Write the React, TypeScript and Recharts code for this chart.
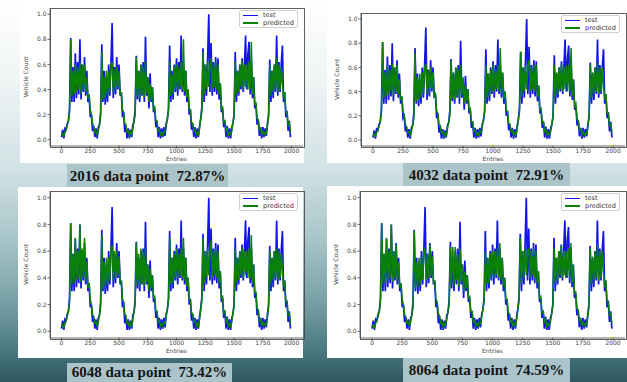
import { LineChart, Line, XAxis, YAxis } from "recharts";

// ── Data (one value every 10 entries) ───────────────────────────────────
const STEP = 10;
const X_TICKS = [0, 250, 500, 750, 1000, 1250, 1500, 1750, 2000];
const Y_TICKS = [0, 0.2, 0.4, 0.6, 0.8, 1.0];

// test series is the same in all four runs
const test = [
  0.02, 0.08, 0.01, 0.09, 0.08, 0.13, 0.15, 0.25, 0.81, 0.3,
  0.58, 0.3, 0.69, 0.33, 0.62, 0.36, 0.8, 0.32, 0.6, 0.38,
  0.66, 0.35, 0.55, 0.3, 0.36, 0.18, 0.2, 0.07, 0.11, 0.02,
  0.09, 0.01, 0.1, 0.12, 0.22, 0.76, 0.3, 0.55, 0.28, 0.5,
  0.3, 0.6, 0.35, 0.62, 0.93, 0.33, 0.58, 0.36, 0.66, 0.4,
  0.6, 0.35, 0.38, 0.18, 0.22, 0.06, 0.11, 0.01, 0.09, 0.01,
  0.08, 0.02, 0.12, 0.14, 0.24, 0.67, 0.32, 0.55, 0.3, 0.6,
  0.35, 0.62, 0.3, 0.82, 0.35, 0.5, 0.25, 0.53, 0.3, 0.42,
  0.22, 0.25, 0.1, 0.15, 0.02, 0.1, 0.01, 0.09, 0.02, 0.1,
  0.03, 0.13, 0.16, 0.25, 0.75, 0.3, 0.55, 0.32, 0.6, 0.38,
  0.65, 0.35, 0.62, 0.4, 0.83, 0.38, 0.62, 0.35, 0.55, 0.3,
  0.4, 0.2, 0.24, 0.08, 0.13, 0.02, 0.1, 0.01, 0.09, 0.02,
  0.11, 0.17, 0.26, 0.73, 0.3, 0.6, 0.35, 0.65, 1.0, 0.38,
  0.77, 0.35, 0.62, 0.38, 0.66, 0.36, 0.65, 0.32, 0.45, 0.22,
  0.25, 0.1, 0.15, 0.02, 0.11, 0.01, 0.09, 0.01, 0.1, 0.13,
  0.2, 0.7, 0.3, 0.55, 0.35, 0.6, 0.4, 0.65, 0.38, 0.6,
  0.83, 0.4, 0.68, 0.78, 0.36, 0.62, 0.33, 0.5, 0.25, 0.28,
  0.12, 0.16, 0.03, 0.1, 0.01, 0.1, 0.02, 0.09, 0.03, 0.13,
  0.2, 0.64, 0.3, 0.55, 0.33, 0.6, 0.38, 0.83, 0.35, 0.62,
  0.38, 0.6, 0.75, 0.3, 0.38, 0.18, 0.23, 0.07, 0.15, 0.02,
];

const pred2016 = [
  0.03, 0.05, 0.03, 0.06, 0.08, 0.11, 0.15, 0.22, 0.8, 0.35,
  0.55, 0.36, 0.6, 0.38, 0.58, 0.4, 0.62, 0.37, 0.6, 0.4,
  0.6, 0.38, 0.5, 0.33, 0.36, 0.24, 0.2, 0.13, 0.1, 0.06,
  0.07, 0.04, 0.07, 0.12, 0.18, 0.7, 0.32, 0.5, 0.33, 0.55,
  0.35, 0.55, 0.38, 0.6, 0.62, 0.38, 0.56, 0.4, 0.58, 0.42,
  0.55, 0.36, 0.38, 0.24, 0.22, 0.13, 0.12, 0.06, 0.07, 0.03,
  0.06, 0.04, 0.09, 0.15, 0.2, 0.66, 0.35, 0.55, 0.33, 0.6,
  0.36, 0.58, 0.34, 0.62, 0.37, 0.5, 0.3, 0.45, 0.32, 0.42,
  0.25, 0.26, 0.15, 0.15, 0.07, 0.08, 0.04, 0.06, 0.04, 0.07,
  0.06, 0.11, 0.17, 0.23, 0.62, 0.35, 0.52, 0.36, 0.58, 0.4,
  0.6, 0.4, 0.58, 0.42, 0.62, 0.4, 0.8, 0.38, 0.55, 0.34,
  0.4, 0.24, 0.24, 0.14, 0.13, 0.07, 0.08, 0.04, 0.06, 0.04,
  0.09, 0.16, 0.23, 0.7, 0.36, 0.6, 0.4, 0.62, 0.42, 0.6,
  0.65, 0.4, 0.6, 0.42, 0.62, 0.4, 0.6, 0.36, 0.45, 0.25,
  0.26, 0.14, 0.15, 0.07, 0.09, 0.04, 0.06, 0.04, 0.07, 0.13,
  0.19, 0.62, 0.36, 0.55, 0.38, 0.6, 0.42, 0.63, 0.4, 0.6,
  0.42, 0.6, 0.4, 0.62, 0.4, 0.78, 0.36, 0.5, 0.28, 0.3,
  0.17, 0.16, 0.08, 0.09, 0.04, 0.07, 0.04, 0.06, 0.05, 0.11,
  0.18, 0.6, 0.35, 0.55, 0.38, 0.6, 0.4, 0.65, 0.38, 0.6,
  0.4, 0.58, 0.45, 0.33, 0.38, 0.22, 0.22, 0.12, 0.13, 0.06,
];

const pred4032 = [
  0.03, 0.05, 0.03, 0.06, 0.08, 0.11, 0.15, 0.22, 0.81, 0.35,
  0.56, 0.36, 0.62, 0.38, 0.58, 0.4, 0.63, 0.37, 0.6, 0.4,
  0.62, 0.38, 0.5, 0.33, 0.36, 0.24, 0.2, 0.13, 0.1, 0.06,
  0.07, 0.04, 0.07, 0.12, 0.18, 0.72, 0.32, 0.52, 0.33, 0.55,
  0.35, 0.56, 0.38, 0.6, 0.63, 0.38, 0.57, 0.4, 0.6, 0.42,
  0.56, 0.36, 0.38, 0.24, 0.22, 0.13, 0.12, 0.06, 0.07, 0.03,
  0.06, 0.04, 0.09, 0.15, 0.2, 0.66, 0.35, 0.56, 0.33, 0.6,
  0.36, 0.58, 0.34, 0.62, 0.37, 0.52, 0.3, 0.45, 0.32, 0.42,
  0.25, 0.26, 0.15, 0.15, 0.07, 0.08, 0.04, 0.06, 0.04, 0.07,
  0.06, 0.11, 0.17, 0.23, 0.62, 0.35, 0.55, 0.36, 0.58, 0.4,
  0.62, 0.4, 0.58, 0.42, 0.62, 0.4, 0.76, 0.38, 0.56, 0.34,
  0.4, 0.24, 0.24, 0.14, 0.13, 0.07, 0.08, 0.04, 0.06, 0.04,
  0.09, 0.16, 0.23, 0.73, 0.36, 0.6, 0.4, 0.62, 0.42, 0.62,
  0.66, 0.4, 0.6, 0.42, 0.62, 0.4, 0.62, 0.36, 0.45, 0.25,
  0.26, 0.14, 0.15, 0.07, 0.09, 0.04, 0.06, 0.04, 0.07, 0.13,
  0.19, 0.62, 0.36, 0.56, 0.38, 0.6, 0.42, 0.63, 0.4, 0.6,
  0.42, 0.62, 0.4, 0.62, 0.4, 0.76, 0.36, 0.5, 0.28, 0.3,
  0.17, 0.16, 0.08, 0.09, 0.04, 0.07, 0.04, 0.06, 0.05, 0.11,
  0.18, 0.62, 0.35, 0.56, 0.38, 0.6, 0.4, 0.64, 0.38, 0.6,
  0.4, 0.6, 0.45, 0.33, 0.38, 0.22, 0.22, 0.12, 0.13, 0.06,
];

const pred6048 = [
  0.03, 0.05, 0.03, 0.06, 0.08, 0.11, 0.15, 0.22, 0.81, 0.35,
  0.58, 0.36, 0.7, 0.38, 0.6, 0.4, 0.8, 0.37, 0.62, 0.4,
  0.7, 0.38, 0.52, 0.33, 0.36, 0.24, 0.2, 0.13, 0.1, 0.06,
  0.07, 0.04, 0.07, 0.12, 0.18, 0.72, 0.32, 0.52, 0.33, 0.55,
  0.35, 0.55, 0.38, 0.62, 0.64, 0.38, 0.6, 0.4, 0.6, 0.42,
  0.56, 0.36, 0.38, 0.24, 0.22, 0.13, 0.12, 0.06, 0.07, 0.03,
  0.06, 0.04, 0.09, 0.15, 0.2, 0.66, 0.35, 0.58, 0.33, 0.62,
  0.36, 0.6, 0.34, 0.62, 0.37, 0.5, 0.3, 0.47, 0.32, 0.42,
  0.25, 0.26, 0.15, 0.15, 0.07, 0.08, 0.04, 0.06, 0.04, 0.07,
  0.06, 0.11, 0.17, 0.23, 0.7, 0.35, 0.55, 0.36, 0.58, 0.4,
  0.62, 0.4, 0.58, 0.42, 0.62, 0.4, 0.7, 0.38, 0.55, 0.34,
  0.4, 0.24, 0.24, 0.14, 0.13, 0.07, 0.08, 0.04, 0.06, 0.04,
  0.09, 0.16, 0.23, 0.7, 0.36, 0.6, 0.4, 0.62, 0.42, 0.6,
  0.68, 0.4, 0.6, 0.42, 0.62, 0.4, 0.6, 0.36, 0.45, 0.25,
  0.26, 0.14, 0.15, 0.07, 0.09, 0.04, 0.06, 0.04, 0.07, 0.13,
  0.19, 0.62, 0.36, 0.55, 0.38, 0.6, 0.42, 0.63, 0.4, 0.6,
  0.42, 0.6, 0.4, 0.62, 0.4, 0.72, 0.36, 0.5, 0.28, 0.3,
  0.17, 0.16, 0.08, 0.09, 0.04, 0.07, 0.04, 0.06, 0.05, 0.11,
  0.18, 0.6, 0.35, 0.55, 0.38, 0.6, 0.4, 0.62, 0.38, 0.6,
  0.4, 0.58, 0.45, 0.33, 0.38, 0.22, 0.22, 0.12, 0.13, 0.06,
];

const pred8064 = [
  0.03, 0.05, 0.03, 0.06, 0.08, 0.11, 0.15, 0.22, 0.81, 0.35,
  0.58, 0.36, 0.7, 0.38, 0.6, 0.4, 0.8, 0.37, 0.6, 0.4,
  0.65, 0.38, 0.52, 0.33, 0.36, 0.24, 0.2, 0.13, 0.1, 0.06,
  0.07, 0.04, 0.07, 0.12, 0.18, 0.75, 0.32, 0.52, 0.33, 0.55,
  0.35, 0.56, 0.38, 0.6, 0.62, 0.38, 0.58, 0.4, 0.65, 0.42,
  0.56, 0.36, 0.38, 0.24, 0.22, 0.13, 0.12, 0.06, 0.07, 0.03,
  0.06, 0.04, 0.09, 0.15, 0.2, 0.63, 0.36, 0.63, 0.34, 0.63,
  0.38, 0.58, 0.34, 0.62, 0.37, 0.5, 0.3, 0.45, 0.32, 0.42,
  0.25, 0.26, 0.15, 0.15, 0.07, 0.08, 0.04, 0.06, 0.04, 0.07,
  0.06, 0.11, 0.17, 0.23, 0.6, 0.35, 0.55, 0.36, 0.58, 0.4,
  0.6, 0.4, 0.6, 0.42, 0.62, 0.4, 0.66, 0.38, 0.55, 0.34,
  0.4, 0.24, 0.24, 0.14, 0.13, 0.07, 0.08, 0.04, 0.06, 0.04,
  0.09, 0.16, 0.23, 0.7, 0.36, 0.6, 0.4, 0.62, 0.42, 0.6,
  0.62, 0.4, 0.6, 0.42, 0.62, 0.4, 0.6, 0.36, 0.45, 0.25,
  0.26, 0.14, 0.15, 0.07, 0.09, 0.04, 0.06, 0.04, 0.07, 0.13,
  0.19, 0.62, 0.36, 0.55, 0.38, 0.6, 0.42, 0.64, 0.4, 0.6,
  0.42, 0.6, 0.4, 0.62, 0.4, 0.66, 0.36, 0.5, 0.28, 0.3,
  0.17, 0.16, 0.08, 0.09, 0.04, 0.07, 0.04, 0.06, 0.05, 0.11,
  0.18, 0.62, 0.35, 0.56, 0.38, 0.6, 0.4, 0.65, 0.38, 0.6,
  0.4, 0.6, 0.45, 0.33, 0.38, 0.22, 0.22, 0.12, 0.13, 0.06,
];

// ── Layout of the four panels (page coords) ─────────────────────────────
type Box = { l: number; t: number; w: number; h: number };
type Frame = { l: number; t: number; r: number; b: number };
interface PanelCfg {
  caption: string;
  pred: number[];
  card: Box;
  plot: Frame;
  cap: Box;
}

const PANELS: PanelCfg[] = [
  {
    caption: "2016 data point  72.87%",
    pred: pred2016,
    card: { l: 20, t: 0, w: 284, h: 163 },
    plot: { l: 50, t: 8, r: 303, b: 146 },
    cap: { l: 67, t: 164, w: 161, h: 24 },
  },
  {
    caption: "4032 data point  72.91%",
    pred: pred4032,
    card: { l: 327, t: 0, w: 300, h: 163 },
    plot: { l: 361, t: 13, r: 625, b: 146 },
    cap: { l: 403, t: 163, w: 167, h: 25 },
  },
  {
    caption: "6048 data point  73.42%",
    pred: pred6048,
    card: { l: 18, t: 187, w: 285, h: 171 },
    plot: { l: 50, t: 191, r: 303, b: 338 },
    cap: { l: 67, t: 363, w: 165, h: 19 },
  },
  {
    caption: "8064 data point  74.59%",
    pred: pred8064,
    card: { l: 327, t: 186, w: 300, h: 172 },
    plot: { l: 360, t: 191, r: 625, b: 338 },
    cap: { l: 403, t: 358, w: 167, h: 24 },
  },
];

const AX = "#444";
const BLUE = "#1414e6";
const GREEN = "#0a820a";
const MPL_FONT = "'DejaVu Sans', sans-serif";

function Panel({ cfg }: { cfg: PanelCfg }) {
  const { card, plot, cap } = cfg;
  const rows = test.map((v, i) => ({
    entry: i * STEP,
    test: v,
    predicted: cfg.pred[i],
  }));
  const yW = plot.l - card.l;
  const xH = card.t + card.h - plot.b;
  const margin = {
    top: plot.t - card.t,
    right: card.l + card.w - plot.r,
    left: 0,
    bottom: 0,
  };
  const plotW = plot.r - plot.l;
  const plotH = plot.b - plot.t;

  return (
    <>
      <div
        style={{
          position: "absolute",
          left: card.l,
          top: card.t,
          width: card.w,
          height: card.h,
          background: "#fff",
        }}
      >
        <LineChart width={card.w} height={card.h} data={rows} margin={margin}>
          <XAxis
            type="number"
            dataKey="entry"
            domain={[-100, 2099]}
            ticks={X_TICKS}
            interval={0}
            allowDataOverflow
            height={xH}
            stroke={AX}
            strokeWidth={0.8}
            tickSize={2.5}
            tickMargin={0.5}
            tick={{ fontSize: 6, fill: "#444", fontFamily: MPL_FONT }}
            label={(p: any) => {
              const vb = p.viewBox ?? {};
              return (
                <text
                  x={(vb.x ?? 0) + (vb.width ?? plotW) / 2}
                  y={plot.b - card.t + 14.5}
                  textAnchor="middle"
                  fontSize={6}
                  fill="#444"
                  fontFamily={MPL_FONT}
                >
                  Entries
                </text>
              );
            }}
          />
          <YAxis
            type="number"
            domain={[-0.05, 1.05]}
            ticks={Y_TICKS}
            interval={0}
            allowDataOverflow
            width={yW}
            stroke={AX}
            strokeWidth={0.8}
            tickSize={2.5}
            tickMargin={1}
            tickFormatter={(v: number) => v.toFixed(1)}
            tick={{ fontSize: 6, fill: "#444", fontFamily: MPL_FONT }}
            label={() => {
              const cx = yW - 25;
              const cy = plot.t - card.t + plotH / 2;
              return (
                <text
                  x={cx}
                  y={cy}
                  transform={`rotate(-90 ${cx} ${cy})`}
                  textAnchor="middle"
                  dominantBaseline="central"
                  fontSize={6}
                  fill="#444"
                  fontFamily={MPL_FONT}
                >
                  Vehicle Count
                </text>
              );
            }}
          />
          <Line
            type="linear"
            dataKey="test"
            stroke={BLUE}
            strokeWidth={1.7}
            strokeLinejoin="miter"
            dot={false}
            isAnimationActive={false}
          />
          <Line
            type="linear"
            dataKey="predicted"
            stroke={GREEN}
            strokeWidth={1.5}
            strokeLinejoin="miter"
            dot={false}
            isAnimationActive={false}
          />
        </LineChart>
      </div>

      {/* axes frame (matplotlib draws all four spines) */}
      <div
        style={{
          position: "absolute",
          left: plot.l - 0.5,
          top: plot.t - 0.5,
          width: plotW,
          height: plotH,
          border: `1px solid ${AX}`,
          opacity: 0.85,
          pointerEvents: "none",
        }}
      />

      {/* legend, upper right like matplotlib */}
      <div
        style={{
          position: "absolute",
          left: plot.r - 64,
          top: plot.t + 1.5,
          width: 59,
          height: 18,
          background: "rgba(255,255,255,0.85)",
          border: "1px solid #d0d0d0",
          borderRadius: 2,
          fontFamily: MPL_FONT,
          fontSize: 6.5,
          color: "#333",
          boxSizing: "border-box",
        }}
      >
        {[
          { name: "test", color: BLUE },
          { name: "predicted", color: GREEN },
        ].map((it, i) => (
          <div
            key={it.name}
            style={{
              position: "absolute",
              left: 3,
              top: 1.5 + i * 7.5,
              height: 7,
              display: "flex",
              alignItems: "center",
            }}
          >
            <span
              style={{
                display: "inline-block",
                width: 15,
                height: 1.5,
                background: it.color,
                marginRight: 5,
              }}
            />
            <span style={{ lineHeight: "7px" }}>{it.name}</span>
          </div>
        ))}
      </div>

      {/* caption */}
      <div
        style={{
          position: "absolute",
          left: cap.l,
          top: cap.t,
          width: cap.w,
          height: cap.h,
          background: "#aac4c9",
          display: "flex",
          alignItems: "center",
          justifyContent: "center",
          fontFamily: "'Liberation Serif', 'DejaVu Serif', serif",
          fontWeight: "bold",
          fontSize: 15,
          color: "#151515",
          whiteSpace: "pre",
        }}
      >
        {cfg.caption}
      </div>
    </>
  );
}

export default function App() {
  return (
    <div
      style={{
        position: "absolute",
        left: 0,
        top: 0,
        width: 627,
        height: 382,
        overflow: "hidden",
        background:
          "linear-gradient(to bottom, #ffffff 0%, #eef3f4 22%, #d2e2e5 44%, #a9c6ca 62%, #7aa3a8 78%, #4d7b81 91%, #2c575d 100%)",
      }}
    >
      {PANELS.map((p) => (
        <Panel key={p.caption} cfg={p} />
      ))}
    </div>
  );
}
